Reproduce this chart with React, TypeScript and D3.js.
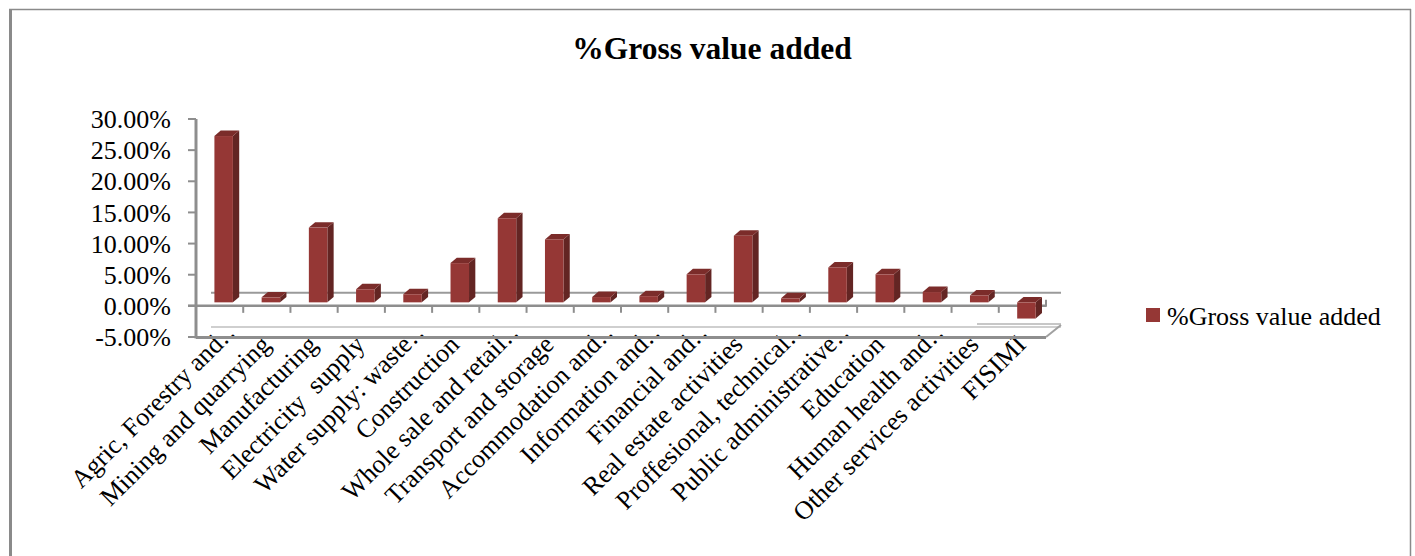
import React from "react";
import * as d3 from "d3";

const categories: string[] = [
  "Agric, Forestry and…",
  "Mining and quarrying",
  "Manufacturing",
  "Electricity  supply",
  "Water supply: waste…",
  "Construction",
  "Whole sale and retail…",
  "Transport and storage",
  "Accommodation and…",
  "Information and…",
  "Financial and…",
  "Real estate activities",
  "Proffesional, technical…",
  "Public administrative…",
  "Education",
  "Human health and…",
  "Other services activities",
  "FISIMI",
];

const grossValueAdded: number[] = [
  26.7, 0.8, 12.0, 2.1, 1.3, 6.3, 13.5, 10.1, 0.85, 1.0, 4.5, 10.7, 0.65, 5.6, 4.5, 1.65, 1.1, -2.6,
];

const yTicks: number[] = [-5, 0, 5, 10, 15, 20, 25, 30];

const seriesName = "%Gross value added";
const title = "%Gross value added";

const W = 1415;
const H = 556;
const FONT = "'Liberation Serif', 'Times New Roman', serif";

export default function App() {
  const x = d3.scaleBand<string>().domain(categories).range([196, 1046]).padding(0);
  const y = d3.scaleLinear().domain([-5, 30]).range([337, 119]);
  const bw = x.bandwidth();

  // depth vector of the 3D box
  const DX = 15;
  const DY = -13;
  const f1 = 0.27;
  const f2 = 0.69;
  const halfW = 9.25;
  const ddx = (f2 - f1) * DX;
  const ddy = (f2 - f1) * DY;

  const front = "#953735";
  const side = "#632523";
  const top = "#7b2c2a";
  const axisGray = "#8e8e8e";

  const y0 = y(0);

  return (
    <svg
      width={W}
      height={H}
      style={{ position: "absolute", left: 0, top: 0, background: "#fff" }}
      fontFamily={FONT}
    >
      <defs>
        <clipPath id="labelClip">
          <rect x={0} y={334} width={W} height={H - 334} />
        </clipPath>
      </defs>

      {/* border */}
      <line x1={10.5} y1={9} x2={10.5} y2={H} stroke="#8a8a8a" strokeWidth={3} />
      <line x1={9} y1={9.5} x2={1411} y2={9.5} stroke="#8a8a8a" strokeWidth={1.5} />
      <line x1={1410.5} y1={9} x2={1410.5} y2={H} stroke="#8a8a8a" strokeWidth={1.5} />

      {/* title */}
      <text x={712} y={59} textAnchor="middle" fontSize={31.5} fontWeight="bold" fill="#000">
        {title}
      </text>

      {/* category labels */}
      <g clipPath="url(#labelClip)">
        {categories.map((c) => {
          const ax = x(c)! + bw / 2 + 5;
          const ay = 346;
          const hasEllipsis = c.endsWith("…");
          const base = hasEllipsis ? c.slice(0, -1) : c;
          return (
            <g key={"l" + c} transform={`rotate(-45 ${ax} ${ay})`}>
              <text x={ax} y={ay} textAnchor="end" fontSize={26} fill="#000" style={{ whiteSpace: "pre" }}>
                {base}
              </text>
              {hasEllipsis && (
                <text x={ax} y={ay} textAnchor="start" fontSize={26} fill="#000">
                  {"…"}
                </text>
              )}
            </g>
          );
        })}
      </g>

      {/* back line of zero plane */}
      <line x1={196 + DX} y1={y0 + DY} x2={1046 + DX} y2={y0 + DY} stroke="#9a9a9a" strokeWidth={2} />

      {/* floor */}
      <line x1={196 + DX} y1={327} x2={1046 + DX} y2={327} stroke="#cfcfcf" strokeWidth={2} />
      <line x1={977} y1={324} x2={1046 + DX} y2={324} stroke="#b5b5b5" strokeWidth={1.5} />
      <line x1={1046 + DX} y1={325} x2={1046} y2={337} stroke="#a0a0a0" strokeWidth={2} />
      <line x1={196} y1={337.5} x2={1046} y2={337.5} stroke={axisGray} strokeWidth={3} />

      {/* front line of zero plane */}
      <line x1={188} y1={y0} x2={1046} y2={y0} stroke={axisGray} strokeWidth={2.5} />
      <line x1={1046} y1={y0 - 6} x2={1046} y2={y0 + 1} stroke={axisGray} strokeWidth={2} />

      {/* category ticks */}
      {categories.slice(1).map((c) => (
        <line key={"t" + c} x1={x(c)!} y1={y0} x2={x(c)!} y2={y0 + 7} stroke={axisGray} strokeWidth={2} />
      ))}

      {/* y axis */}
      <line x1={196} y1={y(30)} x2={196} y2={y(-5) + 1.5} stroke={axisGray} strokeWidth={3} />
      {yTicks.map((t) => (
        <g key={"y" + t}>
          <line x1={188} y1={y(t)} x2={196} y2={y(t)} stroke={axisGray} strokeWidth={2} />
          <text x={171} y={y(t)} dy="0.35em" textAnchor="end" fontSize={26} fill="#000">
            {t.toFixed(2) + "%"}
          </text>
        </g>
      ))}

      {/* bars */}
      {categories.map((c, i) => {
        const v = grossValueAdded[i];
        const cx = x(c)! + bw / 2 + f1 * DX;
        const x0 = cx - halfW;
        const x1 = cx + halfW;
        const yb = y(0) + f1 * DY;
        const yv = y(v) + f1 * DY;
        const t = Math.min(yb, yv);
        const b = Math.max(yb, yv);
        return (
          <g key={"b" + c}>
            <polygon
              points={`${x1},${t} ${x1 + ddx},${t + ddy} ${x1 + ddx},${b + ddy} ${x1},${b}`}
              fill={side}
            />
            <polygon
              points={`${x0},${t} ${x0 + ddx},${t + ddy} ${x1 + ddx},${t + ddy} ${x1},${t}`}
              fill={top}
            />
            <rect x={x0} y={t} width={x1 - x0} height={b - t} fill={front} />
          </g>
        );
      })}

      {/* legend */}
      <rect x={1146} y={308} width={14} height={14} fill={front} />
      <text x={1167} y={325} fontSize={26} fill="#000">
        {seriesName}
      </text>
    </svg>
  );
}
